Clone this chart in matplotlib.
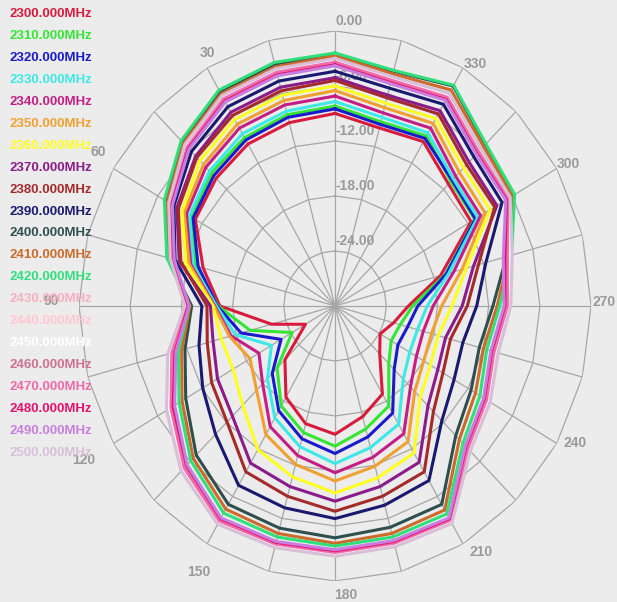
import numpy as np
import matplotlib
matplotlib.use('Agg')
import matplotlib.pyplot as plt
import matplotlib.transforms as mtransforms

# angles (deg, counter-clockwise from top) and gain readings in dB
angles_deg = [0, 15, 30, 45, 60, 75, 90, 105, 120, 135, 150, 165,
              180, 195, 210, 225, 240, 255, 270, 285, 300, 315, 330, 345]

freqs = ['2300.000MHz', '2310.000MHz', '2320.000MHz', '2330.000MHz', '2340.000MHz',
         '2350.000MHz', '2360.000MHz', '2370.000MHz', '2380.000MHz', '2390.000MHz',
         '2400.000MHz', '2410.000MHz', '2420.000MHz', '2430.000MHz', '2440.000MHz',
         '2450.000MHz', '2460.000MHz', '2470.000MHz', '2480.000MHz', '2490.000MHz',
         '2500.000MHz']

colors = ['#d81b3c', '#33e633', '#1a1acd', '#3de8e8', '#c41e85', '#f0a030', '#ffff20',
          '#8b1a8b', '#a52a2a', '#191970', '#2f4f4f', '#cd6a2a', '#2fe07a', '#f7b0bf',
          '#ffc8d2', '#ffffff', '#d07090', '#f06aaa', '#e8106e', '#c87ee0', '#d8bfd8']

gain_2300 = [-9.0, -9.3, -9.6, -10.3, -11.1, -14.0, -16.5, -22.3, -26.0, -21.7, -18.5, -16.7,
             -16.0, -17.5, -18.9, -22.6, -23.9, -22.9, -21.4, -17.2, -11.6, -11.2, -9.3, -9.9]
gain_2310 = [-8.2, -8.4, -8.8, -9.5, -10.5, -13.1, -16.3, -19.7, -24.2, -20.4, -17.4, -15.7,
             -14.7, -16.1, -17.4, -21.1, -22.4, -22.1, -20.9, -16.6, -11.1, -10.8, -8.6, -9.2]
gain_2320 = [-8.5, -8.7, -9.1, -9.9, -10.8, -13.4, -16.2, -18.6, -22.7, -19.6, -16.8, -15.0,
             -13.9, -15.2, -16.5, -20.2, -21.5, -21.2, -20.3, -16.5, -11.0, -10.6, -8.9, -9.5]
gain_2330 = [-7.7, -8.0, -8.3, -9.2, -10.3, -12.8, -16.1, -17.9, -21.4, -18.8, -15.9, -14.1,
             -12.8, -14.0, -15.1, -18.7, -19.9, -20.0, -19.2, -16.2, -10.7, -10.4, -8.2, -8.7]
gain_2340 = [-7.1, -7.3, -7.6, -8.6, -9.9, -12.5, -15.9, -17.4, -19.7, -18.0, -14.8, -13.1,
             -11.8, -12.9, -13.9, -17.5, -19.0, -19.3, -18.5, -15.6, -10.3, -10.0, -7.6, -8.2]
gain_2350 = [-6.5, -6.8, -7.1, -8.2, -9.6, -12.3, -15.8, -17.2, -18.5, -17.0, -13.8, -12.1,
             -10.9, -11.9, -12.9, -16.8, -18.0, -18.3, -17.5, -14.6, -9.7, -9.4, -7.0, -7.6]
gain_2360 = [-6.0, -6.2, -6.5, -7.6, -9.3, -11.9, -15.7, -16.2, -16.2, -14.7, -11.9, -10.7,
             -9.6, -10.6, -11.5, -15.9, -17.1, -17.5, -16.3, -14.1, -9.0, -8.7, -6.4, -7.1]
gain_2370 = [-5.1, -5.3, -5.6, -6.9, -8.6, -11.1, -15.4, -15.2, -14.1, -13.0, -10.2, -9.6,
             -8.7, -9.6, -10.3, -14.6, -16.1, -16.6, -15.1, -13.2, -8.1, -7.8, -5.4, -6.2]
gain_2380 = [-5.4, -5.7, -6.0, -7.1, -8.8, -11.3, -15.0, -14.5, -13.3, -12.1, -9.1, -8.5,
             -7.6, -8.5, -9.1, -13.7, -15.4, -16.0, -14.5, -12.6, -8.4, -8.2, -5.8, -6.5]
gain_2390 = [-4.4, -4.6, -4.9, -6.2, -8.2, -10.6, -14.4, -13.5, -12.1, -10.2, -7.4, -7.2,
             -6.8, -7.5, -8.0, -12.3, -13.9, -14.5, -13.4, -11.7, -7.4, -7.0, -4.6, -5.4]
gain_2400 = [-2.5, -2.7, -3.0, -4.6, -7.1, -9.7, -13.2, -11.8, -9.8, -7.0, -5.0, -4.9,
             -4.7, -5.0, -5.0, -10.0, -11.6, -12.5, -11.5, -9.2, -5.8, -5.1, -2.3, -3.5]
gain_2410 = [-2.7, -3.0, -3.3, -4.9, -7.3, -9.9, -13.0, -11.4, -9.3, -6.5, -4.4, -4.3,
             -4.1, -4.3, -4.3, -9.4, -11.0, -12.0, -11.0, -8.9, -6.0, -5.4, -2.8, -3.8]
gain_2420 = [-2.4, -2.5, -2.8, -4.5, -6.9, -9.6, -12.9, -11.0, -8.9, -6.1, -3.9, -3.9,
             -3.8, -3.9, -3.8, -8.8, -10.4, -11.6, -10.7, -8.6, -5.7, -5.0, -2.2, -3.4]
gain_2430 = [-3.1, -3.3, -3.6, -5.2, -7.6, -10.1, -12.5, -9.8, -7.3, -4.6, -2.6, -2.8,
             -2.8, -2.9, -2.7, -7.7, -9.1, -10.3, -9.5, -8.6, -6.4, -5.9, -3.3, -4.2]
gain_2440 = [-3.2, -3.4, -3.7, -5.3, -7.6, -10.1, -12.5, -10.0, -7.5, -4.8, -2.7, -2.9,
             -2.9, -3.0, -2.8, -7.8, -9.2, -10.4, -9.6, -8.8, -6.5, -6.0, -3.4, -4.3]
gain_2450 = [-3.3, -3.5, -3.8, -5.4, -7.7, -10.2, -12.6, -10.1, -7.6, -4.9, -2.8, -3.0,
             -3.0, -3.1, -2.9, -7.9, -9.4, -10.6, -9.7, -8.9, -6.5, -6.1, -3.6, -4.4]
gain_2460 = [-3.6, -3.8, -4.1, -5.6, -7.9, -10.4, -12.8, -10.4, -8.0, -5.2, -3.1, -3.2,
             -3.2, -3.3, -3.1, -8.2, -9.6, -10.8, -10.0, -9.3, -6.7, -6.4, -3.8, -4.7]
gain_2470 = [-3.4, -3.6, -3.9, -5.5, -7.8, -10.3, -12.7, -10.2, -7.8, -5.0, -2.9, -3.1,
             -3.1, -3.2, -3.0, -8.0, -9.5, -10.7, -9.8, -9.1, -6.6, -6.2, -3.7, -4.5]
gain_2480 = [-3.7, -3.9, -4.2, -5.7, -7.9, -10.4, -12.8, -10.6, -8.1, -5.4, -3.2, -3.3,
             -3.3, -3.4, -3.2, -8.3, -9.8, -11.0, -10.1, -9.4, -6.8, -6.5, -4.0, -4.8]
gain_2490 = [-3.8, -4.0, -4.3, -5.8, -8.0, -10.5, -12.9, -10.7, -8.3, -5.5, -3.3, -3.4,
             -3.4, -3.5, -3.3, -8.4, -9.9, -11.1, -10.2, -9.6, -6.9, -6.6, -4.1, -4.9]
gain_2500 = [-3.0, -3.2, -3.5, -5.1, -7.5, -10.0, -12.4, -9.7, -7.2, -4.5, -2.5, -2.7,
             -2.7, -2.8, -2.6, -7.6, -9.0, -10.2, -9.4, -8.5, -6.3, -5.8, -3.2, -4.1]

series = [gain_2300, gain_2310, gain_2320, gain_2330, gain_2340, gain_2350, gain_2360,
          gain_2370, gain_2380, gain_2390, gain_2400, gain_2410, gain_2420, gain_2430,
          gain_2440, gain_2450, gain_2460, gain_2470, gain_2480, gain_2490, gain_2500]

ring_values = [-24, -18, -12, -6, 0]
angle_labels = [30, 60, 90, 120, 150, 180, 210, 240, 270, 300, 330]
# pixel nudges of the angle labels away from the outer ring corners
label_nudge = [(0, 15), (-15, 16), (-28, 5), (-30, -17), (-8, -28), (11, -14),
               (18, -8), (18, 0), (13, 4), (12, 4), (12, 4)]

bg = '#ececec'
grid_col = '#a6a6a6'
label_col = '#9a9a9a'
font = 'Liberation Sans'

fig = plt.figure(figsize=(6.17, 6.02), dpi=100, facecolor=bg)
ax = fig.add_axes([0.128, 0.035, 0.830, 0.9136], projection='polar')
ax.set_aspect('auto')
ax.set_facecolor(bg)
ax.set_theta_zero_location('N')
ax.set_theta_direction(1)
ax.set_ylim(-30, 0)
ax.grid(False)
ax.set_xticks([])
ax.set_yticks([])
ax.spines['polar'].set_visible(False)

theta = np.deg2rad(angles_deg)
theta_closed = np.append(theta, theta[0])

# polygon grid: rings and spokes
for rv in ring_values:
    ax.plot(theta_closed, [rv] * len(theta_closed), color=grid_col, lw=0.9, zorder=1)
for t in theta:
    ax.plot([t, t], [-30, 0], color=grid_col, lw=0.9, zorder=1)

# radial labels along the 0 deg spoke
up = mtransforms.offset_copy(ax.transData, fig=fig, x=0, y=3, units='dots')
for rv in ring_values:
    ax.text(0, rv, '%.2f' % rv, transform=up, ha='left', va='bottom',
            color=label_col, fontsize=10, fontweight='bold', family=font, zorder=2)

# angle labels just outside the outer ring
for a, (dx, dy) in zip(angle_labels, label_nudge):
    tr = mtransforms.offset_copy(ax.transData, fig=fig, x=dx, y=dy, units='dots')
    ax.text(np.deg2rad(a), 0, str(a), transform=tr, ha='center', va='center',
            color=label_col, fontsize=10, fontweight='bold', family=font, clip_on=False)

# pattern curves
for vals, c in zip(series, colors):
    ax.plot(theta_closed, np.append(vals, vals[0]), color=c, lw=2.2, zorder=3)

# frequency list on the left
for i, (f, c) in enumerate(zip(freqs, colors)):
    fig.text(10 / 617, 1 - (14 + i * 21.95) / 602, f, color=c, fontsize=9.5,
             fontweight='bold', family=font, ha='left', va='center')

fig.savefig('out.png', dpi=100, facecolor=bg)
